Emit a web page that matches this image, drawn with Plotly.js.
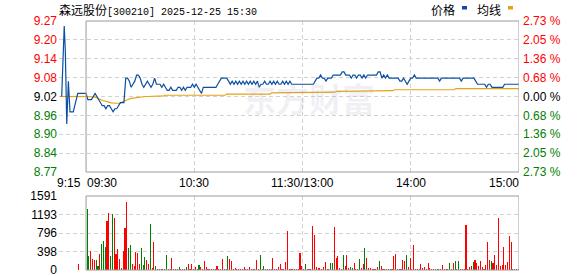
<!DOCTYPE html>
<html><head><meta charset="utf-8">
<script src="https://cdn.plot.ly/plotly-3.0.1.min.js"></script>
<style>html,body{margin:0;padding:0;background:#fff}#chart{width:578px;height:276px}</style>
</head><body><div id="chart"></div>
<script>
// ---------------- data ----------------
const stockName = '森远股份';
const stockCode = '[300210]';
const stamp = '2025-12-25 15:30';
const legendNames = ['价格', '均线'];
const prevClose = 9.02;
const maxPct = 2.73;
const volMax = 1591;

// time axis in minutes from 9:15 (15 = 9:30, 135 = 11:30/13:00, 255 = 15:00)
const timeTickVals = [0, 15, 75, 135, 195, 255];
const timeTickText = ['9:15', '09:30', '10:30', '11:30/13:00', '14:00', '15:00'];
const priceTickText = ['9.27', '9.20', '9.14', '9.08', '9.02', '8.96', '8.90', '8.84', '8.77'];
const pctTickText = ['2.73 %', '2.05 %', '1.36 %', '0.68 %', '0.00 %', '0.68 %', '1.36 %', '2.05 %', '2.73 %'];
const volTickText = ['1591', '1193', '796', '398', '0'];

// pre-market auction (9:15 - 9:30)
const preTimes  = [1.5, 2.4, 2.9, 3.5, 4.3, 5.2, 6.1, 7.9, 10.4, 15];
const prePrices = [9.02, 9.18, 9.25, 9.17, 8.93, 9.07, 8.97, 8.97, 9.03, 9.03];
const preAvgTimes = [0.5, 15];
const preAvg = [9.02, 9.02];
const preVolTimes = [10];
const preVolumes = [130];
const preVolDirs = ['r'];

// one value per minute, 9:30 ... 11:30, 13:01 ... 15:00 (241)
const prices = [
 9.03,9.01,9.01,9.01,9.02,9.03,9.02,9.01,9.00,8.99,
 8.99,8.98,8.99,8.99,8.98,8.97,8.98,8.98,8.99,9.00,
 9.00,9.00,9.08,9.08,9.07,9.05,9.06,9.07,9.09,9.09,
 9.08,9.06,9.05,9.06,9.07,9.06,9.05,9.06,9.08,9.06,
 9.06,9.06,9.05,9.06,9.05,9.04,9.04,9.05,9.04,9.04,
 9.04,9.05,9.05,9.04,9.05,9.04,9.05,9.05,9.05,9.06,
 9.05,9.06,9.05,9.04,9.03,9.05,9.05,9.05,9.05,9.05,
 9.05,9.05,9.05,9.06,9.07,9.08,9.08,9.08,9.08,9.07,
 9.06,9.07,9.06,9.07,9.06,9.07,9.06,9.07,9.06,9.07,
 9.06,9.07,9.06,9.07,9.06,9.07,9.05,9.06,9.06,9.07,
 9.06,9.06,9.07,9.06,9.07,9.06,9.07,9.06,9.06,9.07,
 9.06,9.07,9.06,9.07,9.06,9.06,9.06,9.06,9.06,9.06,
 9.06,9.06,9.06,9.06,9.06,9.06,9.06,9.07,9.08,9.08,
 9.09,9.08,9.08,9.07,9.08,9.08,9.08,9.09,9.09,9.09,
 9.09,9.09,9.10,9.10,9.09,9.09,9.09,9.08,9.09,9.09,
 9.08,9.09,9.09,9.08,9.09,9.08,9.09,9.09,9.09,9.09,
 9.09,9.09,9.10,9.10,9.08,9.09,9.08,9.09,9.08,9.08,
 9.08,9.08,9.08,9.08,9.07,9.07,9.08,9.07,9.06,9.07,
 9.08,9.08,9.09,9.08,9.08,9.08,9.08,9.08,9.08,9.08,
 9.08,9.08,9.08,9.08,9.08,9.08,9.07,9.08,9.08,9.08,
 9.08,9.08,9.08,9.08,9.08,9.08,9.08,9.08,9.07,9.08,
 9.08,9.08,9.08,9.08,9.08,9.08,9.07,9.06,9.06,9.06,
 9.06,9.06,9.05,9.06,9.06,9.05,9.05,9.05,9.05,9.05,
 9.05,9.05,9.06,9.06,9.06,9.06,9.06,9.06,9.06,9.06,
 9.06
];
const avgPrices = [
 9.020,9.020,9.020,9.020,9.020,9.018,9.016,9.012,9.008,9.007,
 9.006,9.005,9.003,9.001,8.999,8.998,8.998,8.998,8.998,8.998,
 9.002,9.005,9.008,9.010,9.012,9.014,9.015,9.016,9.017,9.018,
 9.019,9.020,9.020,9.020,9.020,9.020,9.022,9.022,9.022,9.022,
 9.022,9.022,9.022,9.022,9.024,9.024,9.024,9.024,9.024,9.024,
 9.024,9.024,9.024,9.024,9.024,9.024,9.024,9.024,9.024,9.024,
 9.024,9.024,9.024,9.024,9.024,9.024,9.024,9.024,9.024,9.024,
 9.024,9.024,9.024,9.024,9.024,9.024,9.024,9.024,9.028,9.028,
 9.028,9.028,9.028,9.028,9.028,9.028,9.028,9.028,9.028,9.028,
 9.028,9.028,9.028,9.028,9.028,9.028,9.028,9.028,9.028,9.028,
 9.028,9.028,9.028,9.032,9.032,9.032,9.032,9.032,9.032,9.032,
 9.032,9.032,9.032,9.032,9.032,9.032,9.032,9.032,9.032,9.032,
 9.032,9.032,9.034,9.034,9.034,9.034,9.034,9.034,9.034,9.034,
 9.034,9.034,9.034,9.034,9.034,9.034,9.034,9.034,9.034,9.037,
 9.037,9.037,9.037,9.037,9.037,9.037,9.037,9.037,9.037,9.037,
 9.037,9.037,9.039,9.039,9.039,9.039,9.039,9.039,9.039,9.039,
 9.039,9.039,9.039,9.039,9.039,9.039,9.039,9.039,9.039,9.039,
 9.039,9.042,9.042,9.042,9.042,9.042,9.042,9.042,9.042,9.042,
 9.042,9.042,9.042,9.042,9.042,9.042,9.042,9.042,9.042,9.042,
 9.042,9.042,9.042,9.042,9.042,9.042,9.042,9.042,9.042,9.042,
 9.042,9.042,9.042,9.042,9.042,9.046,9.046,9.046,9.046,9.046,
 9.046,9.046,9.046,9.046,9.046,9.046,9.046,9.046,9.046,9.046,
 9.046,9.046,9.046,9.046,9.046,9.046,9.046,9.046,9.046,9.046,
 9.046,9.046,9.046,9.046,9.046,9.046,9.046,9.046,9.046,9.046,
 9.046
];
const volumes = [
 1312,301,409,237,215,215,93,337,559,624,
 495,1054,1226,301,1197,1126,344,452,237,50,
 409,911,1470,473,538,129,86,387,366,129,
 473,108,280,215,129,989,43,602,86,22,
 30,30,22,30,322,22,30,258,22,30,
 22,65,22,30,22,65,129,22,129,30,
 65,22,108,65,22,194,65,22,30,22,
 30,22,86,22,30,237,22,30,301,237,
 194,22,43,22,30,22,22,65,22,30,
 65,22,22,30,215,22,322,22,86,22,
 30,22,22,258,22,30,65,129,22,30,
 172,839,22,30,22,30,22,22,358,86,
 30,129,22,22,22,946,753,65,43,43,
 22,65,172,22,22,150,150,925,258,301,
 43,22,322,86,322,43,65,43,150,22,
 22,237,43,129,473,258,43,43,22,22,
 22,65,194,86,22,22,22,22,22,22,
 301,344,22,22,22,215,194,322,65,258,
 22,538,22,22,22,129,43,65,22,150,
 43,22,22,22,22,22,22,108,22,22,
 22,150,22,150,194,22,194,22,22,22,
 968,22,65,86,172,215,150,86,194,65,
 22,108,602,215,194,150,322,108,1118,86,
 108,495,108,172,731,602,22,22,22,22,
 753
];
// r = up minute (red), g = down minute (green)
const volDirs = [
 'ggrrrggrgg','grrggrrrrg','rrrggrrrrr','gggrrgrrgr','rrrrgrrrrr',
 'rgrrrgrrrr','rrgrrrrrrr','rrrrrrrrgr','rrrrrrrrrr','rrrrrrgrgr',
 'rrrrrrrrrr','rrrrrrrrrr','rgrrrrrrrr','rrrrrggrrr','rrgrrrggrr',
 'rgrrgrrrrr','rrgrrrrggr','rrrrrrrgrr','rrrrrrrrgr','rrrrgrrrrr',
 'rgrrgrgrrr','rrrrgrrrrr','grrrgrrrrr','rrrrrrrgrr','r'
].join('').split('');

// ---------------- styling / geometry ----------------
const OPEN_T = 15;           // minute index of 09:30
const BAR_SHIFT = 0.6;       // bars sit just right of their minute
const C_UP = '#ff0000', C_DN = '#008000', C_FLAT = '#000000';
const C_PRICE = '#0c4fa0', C_AVG = '#e3a21a';
const GRID = '#d2d2d2', FRAME = '#9a9a9a';
const W = 578, H = 276, ML = 59, MR = 59, MT = 21, MB = 6;
const plotH = H - MT - MB;
const py = px => (H - MB - px) / plotH;           // pixel row -> paper y
const pxX = px => (px - ML) / (W - ML - MR);      // pixel col -> paper x
const mainDom = [py(172), 1];
const volDom = [0, py(196)];
const FONT = 'Liberation Sans, Arial, sans-serif';
const CJK = 'Noto Sans CJK SC, sans-serif';

const mainT = prices.map((_, i) => OPEN_T + i);
const lo = prevClose * (1 - maxPct / 100), hi = prevClose * (1 + maxPct / 100);
const priceTickVals = priceTickText.map((_, i) => hi - i * (hi - lo) / (priceTickText.length - 1));
const pctTickVals = pctTickText.map((_, i) => maxPct - i * 2 * maxPct / (pctTickText.length - 1));
const volTickVals = volTickText.map((_, i) => volMax - i * volMax / (volTickText.length - 1));
const labelColor = i => { const m = (priceTickText.length - 1) / 2; return i < m ? C_UP : (i > m ? C_DN : C_FLAT); };
const colored = (arr) => arr.map((t, i) => `<span style="color:${labelColor(i)}">${t}</span>`);
const dirColor = d => d === 'r' ? C_UP : C_DN;

const traces = [
  {x: preAvgTimes, y: preAvg, type: 'scatter', mode: 'lines', line: {color: C_AVG, width: 1.2}, xaxis: 'x', yaxis: 'y'},
  {x: mainT, y: avgPrices, type: 'scatter', mode: 'lines', line: {color: C_AVG, width: 1.2}, xaxis: 'x', yaxis: 'y'},
  {x: preTimes, y: prePrices, type: 'scatter', mode: 'lines', line: {color: C_PRICE, width: 1.2}, xaxis: 'x', yaxis: 'y'},
  {x: mainT, y: prices, type: 'scatter', mode: 'lines', line: {color: C_PRICE, width: 1.2}, xaxis: 'x', yaxis: 'y'},
  {x: [0], y: [0], type: 'scatter', mode: 'markers', marker: {opacity: 0}, xaxis: 'x', yaxis: 'y2'},
  {x: preVolTimes.map(t => t + BAR_SHIFT), y: preVolumes, type: 'bar', width: 0.6,
   marker: {color: preVolDirs.map(dirColor), line: {width: 0}}, xaxis: 'x2', yaxis: 'y3'},
  {x: mainT.map(t => t + BAR_SHIFT), y: volumes, type: 'bar', width: 0.6,
   marker: {color: volDirs.map(dirColor), line: {width: 0}}, xaxis: 'x2', yaxis: 'y3'}
];

const xGrid = [0, 75, 135, 195];
const axisX = {
  range: [0, 255], domain: [0, 1], showgrid: true, gridcolor: GRID, griddash: '4px,3px', gridwidth: 1,
  tickmode: 'array', tickvals: xGrid, showticklabels: false, ticks: '', zeroline: false, showline: false, fixedrange: true
};

const anchors = ['left', 'left', 'center', 'center', 'center', 'right'];
const annotations = timeTickVals.map((v, i) => ({
  x: v, xref: 'x', y: py(182.5), yref: 'paper', text: timeTickText[i], showarrow: false,
  xanchor: anchors[i], yanchor: 'middle', xshift: i === 0 ? -4 : (i === 1 ? -1 : (i === 5 ? 2 : 0)),
  font: {family: FONT, size: 12, color: '#000'}
}));
annotations.push({
  x: 0, xref: 'paper', y: py(9), yref: 'paper', xanchor: 'left', yanchor: 'middle', showarrow: false, xshift: -2,
  text: stockName + `<span style="font-family:Liberation Mono, monospace;font-size:10px">${stockCode} ${stamp}</span>`,
  font: {family: CJK, size: 12, color: '#000'}
});
annotations.push({x: pxX(442.5), xref: 'paper', y: py(9), yref: 'paper', xanchor: 'center', yanchor: 'middle', showarrow: false,
  text: legendNames[0], font: {family: CJK, size: 12, color: '#000'}});
annotations.push({x: pxX(489), xref: 'paper', y: py(9), yref: 'paper', xanchor: 'center', yanchor: 'middle', showarrow: false,
  text: legendNames[1], font: {family: CJK, size: 12, color: '#000'}});
annotations.push({x: pxX(309), xref: 'paper', y: py(98), yref: 'paper', xanchor: 'center', yanchor: 'middle', showarrow: false,
  text: '<b>东方财富</b>', font: {family: CJK, size: 33, color: 'rgba(160,165,185,0.16)'}});

const shapes = [
  {type: 'rect', xref: 'x', yref: 'paper', x0: OPEN_T, x1: 255, y0: mainDom[0], y1: mainDom[1], line: {color: FRAME, width: 1}},
  {type: 'rect', xref: 'x2', yref: 'paper', x0: OPEN_T, x1: 255, y0: volDom[0], y1: volDom[1], line: {color: FRAME, width: 1}},
  {type: 'rect', xref: 'paper', yref: 'paper', x0: pxX(462), x1: pxX(467), y0: py(9.5), y1: py(6), fillcolor: C_PRICE, line: {width: 0}},
  {type: 'rect', xref: 'paper', yref: 'paper', x0: pxX(508), x1: pxX(513), y0: py(9.5), y1: py(6), fillcolor: C_AVG, line: {width: 0}}
];

const tickFont = {family: FONT, size: 12, color: '#000'};
const layout = {
  width: W, height: H, margin: {l: ML, r: MR, t: MT, b: MB, pad: 0},
  paper_bgcolor: '#fff', plot_bgcolor: '#fff', showlegend: false, bargap: 0,
  xaxis: Object.assign({}, axisX, {anchor: 'y'}),
  xaxis2: Object.assign({}, axisX, {anchor: 'y3'}),
  yaxis: {domain: mainDom, range: [lo, hi], tickmode: 'array', tickvals: priceTickVals, ticktext: colored(priceTickText),
    showgrid: true, gridcolor: GRID, griddash: '4px,3px', zeroline: false, ticks: '', tickfont: tickFont, fixedrange: true,
    ticklabelstandoff: 1, ticklabeloverflow: 'allow'},
  yaxis2: {overlaying: 'y', side: 'right', anchor: 'x', range: [-maxPct, maxPct], tickmode: 'array', tickvals: pctTickVals,
    ticktext: colored(pctTickText), showgrid: false, zeroline: false, ticks: '', tickfont: tickFont, fixedrange: true,
    ticklabelstandoff: 3, ticklabeloverflow: 'allow'},
  yaxis3: {domain: volDom, anchor: 'x2', range: [0, volMax], tickmode: 'array', tickvals: volTickVals, ticktext: volTickText,
    showgrid: true, gridcolor: GRID, griddash: '4px,3px', zeroline: false, ticks: '', tickfont: tickFont, fixedrange: true,
    ticklabelstandoff: 1, ticklabeloverflow: 'allow'},
  annotations: annotations,
  shapes: shapes
};

Plotly.newPlot('chart', traces, layout, {staticPlot: true, displayModeBar: false});
</script>
</body></html>
